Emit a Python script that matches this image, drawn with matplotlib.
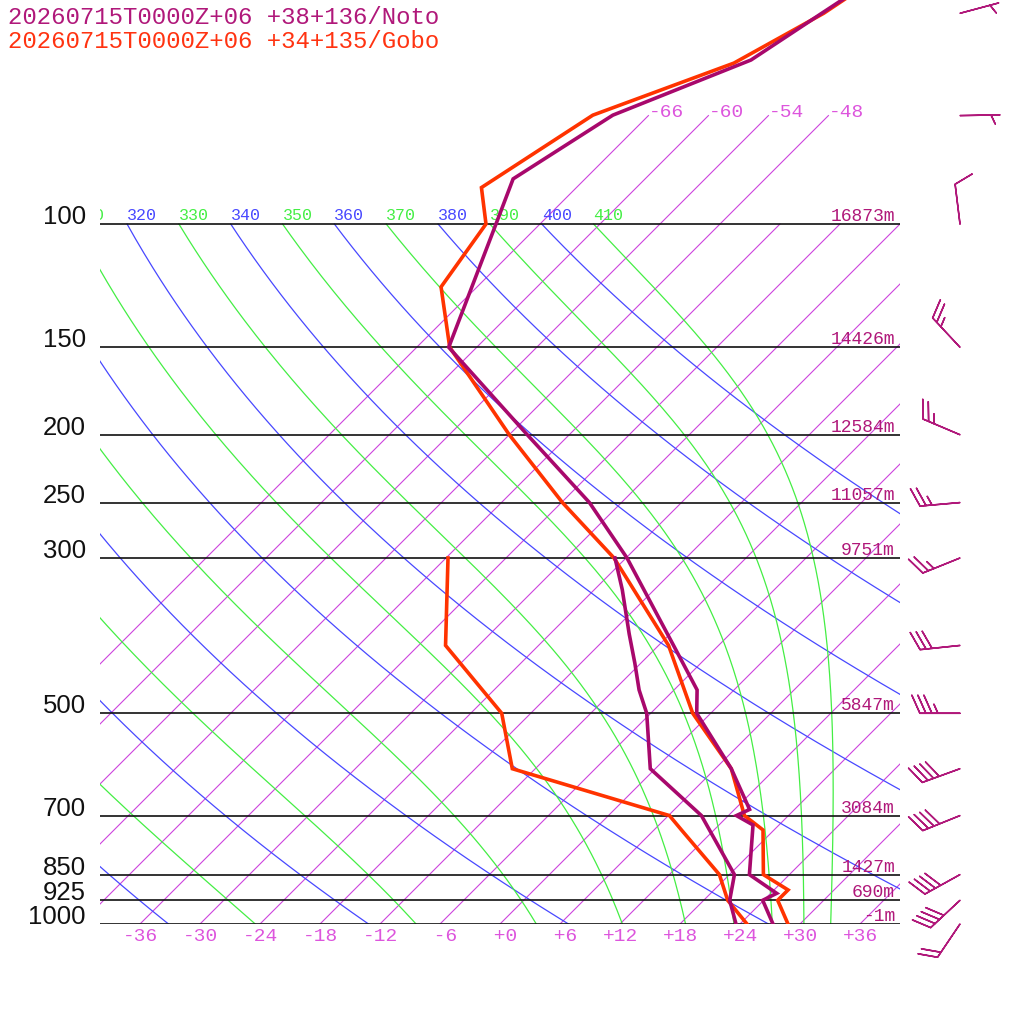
import numpy as np
import matplotlib
matplotlib.use("Agg")
import matplotlib.pyplot as plt
from matplotlib.transforms import Affine2D, ScaledTranslation, blended_transform_factory

# ---------------- data ----------------
title_noto = "20260715T0000Z+06 +38+136/Noto"
title_gobo = "20260715T0000Z+06 +34+135/Gobo"

# Noto sounding (hPa, degC)
noto_p = [30, 50, 58.3, 69.9, 86.2, 100, 150, 200, 250, 300, 400, 463, 500, 600, 686, 700, 722, 850, 904, 925, 1000]
noto_t = [-50.8, -58.9, -61.3, -69.6, -73.2, -70.4, -62.8, -46.2, -33.2, -23.9, -10.5, -3.7, -1.4, 7.6, 13.5, 12.8, 15.4, 20.0, 24.6, 23.9, 27.3]
noto_td_p = [300, 333, 385, 424, 463, 500, 600, 700, 850, 925, 1000]
noto_td = [-25.1, -21.2, -16.1, -12.6, -9.5, -6.4, -0.5, 9.3, 18.5, 20.6, 23.6]

# Gobo sounding
gobo_p = [30, 50, 58.9, 69.9, 88.7, 100, 123, 150, 200, 250, 300, 400, 500, 600, 700, 734, 850, 894, 925, 1000]
gobo_t = [-51.0, -58.7, -62.7, -71.6, -75.5, -71.4, -69.6, -62.7, -48.0, -35.9, -25.2, -11.0, -1.8, 7.6, 13.6, 16.9, 21.4, 25.4, 25.4, 28.8]
gobo_td_p = [300, 400, 500, 600, 700, 736, 850, 925, 1000]
gobo_td = [-41.8, -33.3, -20.9, -14.3, 6.1, 8.9, 17.0, 20.4, 24.7]

# Noto winds (direction deg, speed kt)
wind_p = [50, 70, 100, 150, 200, 250, 300, 400, 500, 600, 700, 850, 925, 1000]
wind_dir = [75, 89, 353, 317, 293, 265, 248, 264, 270, 250, 248, 241, 227, 214]
wind_spd = [5, 5, 10, 25, 25, 25, 25, 30, 35, 40, 40, 40, 40, 20]

# Noto geopotential heights at mandatory levels
height_p = [100, 150, 200, 250, 300, 500, 700, 850, 925, 1000]
height_m = [16873, 14426, 12584, 11057, 9751, 5847, 3084, 1427, 690, -1]
pressure_labels = [100, 150, 200, 250, 300, 500, 700, 850, 925, 1000]

isotherms = list(range(-66, 37, 6))
isotherms_top = [-66, -60, -54, -48]
bottom_labels = list(range(-36, 37, 6))
dry_thetas = [240, 260, 280, 300, 320, 340, 360, 380, 400]
moist_thetas = [250, 270, 290, 310, 330, 350, 370, 390, 410]
theta_labels = [310, 320, 330, 340, 350, 360, 370, 380, 390, 400, 410]

# ---------------- styles ----------------
NOTO_C = "#a8086c"
NOTO_TXT = "#b0187a"
GOBO_C = "#ff3300"
ISO_C = "#cc44dd"
ISO_TXT = "#dd55dd"
DRY_C = "#4848ff"
MOIST_C = "#44ee44"
MONO = "Liberation Mono"
SANS = "Liberation Sans"

W, H = 1024, 1024
fig = plt.figure(figsize=(W / 100, H / 100), dpi=100)
ax = fig.add_axes([100 / W, (H - 924) / H, 800 / W, 924 / H])
ax.set_yscale("log")
P_TOP = 1000 * np.exp(-924 / 304.0)
ax.set_ylim(1000, P_TOP)
ax.set_xlim(-40, 40)
ax.set_axis_off()

skew = ax.transScale + ax.transLimits + Affine2D().skew(np.arctan(924 / 800), 0) + ax.transAxes


def px(dx, dy):
    return ScaledTranslation(dx / 100, dy / 100, fig.dpi_scale_trans)


# isotherms
for t in isotherms:
    ax.plot([t, t], [1000, 100], color=ISO_C, lw=0.8, transform=skew, zorder=1)
for t in isotherms_top:
    ax.plot([t, t], [100, 70], color=ISO_C, lw=0.8, transform=skew, zorder=1)
    ax.text(t, 70, f"{t:+d}", transform=skew + px(0, -1.5), ha="left", va="baseline",
            fontsize=14, family=MONO, color=ISO_TXT)

# bottom temperature labels
xax = ax.get_xaxis_transform()
for t in bottom_labels:
    ax.text(t, 0, f"{t:+3d}", transform=xax + px(0, -4), ha="center", va="top",
            fontsize=14, family=MONO, color=ISO_TXT)

RD, CP, LV, EPS = 287.04, 1005.7, 2.501e6, 0.622
KAPPA = RD / CP
p_line = np.geomspace(100, 1000, 240)


def pseudo_adiabat(theta_top, p_arr):
    def rhs(lnp, T):
        p = np.exp(lnp)
        tc = T - 273.15
        es = 6.112 * np.exp(17.67 * tc / (tc + 243.5))
        rs = EPS * es / (p - es)
        return (RD * T + LV * rs) / (CP + LV * LV * rs * EPS / (RD * T * T))
    lnps = np.log(p_arr)
    T = theta_top * (p_arr[0] / 1000.0) ** KAPPA
    out = [T]
    for i in range(len(lnps) - 1):
        h = lnps[i + 1] - lnps[i]
        k1 = rhs(lnps[i], T)
        k2 = rhs(lnps[i] + h / 2, T + h / 2 * k1)
        k3 = rhs(lnps[i] + h / 2, T + h / 2 * k2)
        k4 = rhs(lnps[i + 1], T + h * k3)
        T = T + h / 6 * (k1 + 2 * k2 + 2 * k3 + k4)
        out.append(T)
    return np.array(out) - 273.15


for th in dry_thetas:
    tl = th * (p_line / 1000.0) ** KAPPA - 273.15
    ax.plot(tl, p_line, color=DRY_C, lw=0.9, transform=skew, zorder=1)
    if th in theta_labels:
        ax.text(tl[0], 100, f"{th}", transform=skew + px(0, 4), ha="left", va="baseline",
                fontsize=12, family=MONO, color=DRY_C, clip_on=True)
for th in moist_thetas:
    tl = pseudo_adiabat(th, p_line)
    ax.plot(tl, p_line, color=MOIST_C, lw=0.9, transform=skew, zorder=1)
    if th in theta_labels:
        ax.text(tl[0], 100, f"{th}", transform=skew + px(0, 4), ha="left", va="baseline",
                fontsize=12, family=MONO, color=MOIST_C, clip_on=True)

# pressure lines
for p in pressure_labels:
    ax.axhline(p, color="#111111", lw=1.2, zorder=2)
left_tr = blended_transform_factory(fig.transFigure, ax.transData)
for p in pressure_labels:
    ax.text(86 / W, p, f"{p}", transform=left_tr, ha="right", va="baseline",
            fontsize=18.5, family=SANS, color="#111111")
for p, hgt in zip(height_p, height_m):
    ax.text(895 / W, p, f"{hgt}m", transform=left_tr + px(0, 3), ha="right", va="baseline",
            fontsize=13, family=MONO, color=NOTO_TXT, zorder=3)

# soundings
ax.plot(gobo_td, gobo_td_p, color=GOBO_C, lw=2.6, transform=skew, zorder=4, solid_joinstyle="miter")
ax.plot(noto_td, noto_td_p, color=NOTO_C, lw=2.6, transform=skew, zorder=5, solid_joinstyle="miter")
ax.plot(gobo_t, gobo_p, color=GOBO_C, lw=2.6, transform=skew, zorder=4, solid_joinstyle="miter")
ax.plot(noto_t, noto_p, color=NOTO_C, lw=2.6, transform=skew, zorder=5, solid_joinstyle="miter")

# wind barbs
wd = np.deg2rad(np.array(wind_dir, dtype=float))
ws = np.array(wind_spd, dtype=float)
u = -ws * np.sin(wd)
v = -ws * np.cos(wd)
ax.barbs(np.full(len(wind_p), 960 / W), wind_p, u, v, transform=left_tr,
         length=7.6, sizes=dict(spacing=0.15, height=0.45, width=0.4),
         barbcolor=NOTO_TXT, flagcolor=NOTO_TXT, linewidth=1.1, clip_on=False, zorder=6)

# titles
fig.text(8 / W, 1 - 24 / H, title_noto, ha="left", va="baseline", fontsize=17.3,
         family=MONO, color=NOTO_TXT)
fig.text(8 / W, 1 - 48 / H, title_gobo, ha="left", va="baseline", fontsize=17.3,
         family=MONO, color="#ff3311")

fig.savefig("out.png", dpi=100, facecolor="white")
